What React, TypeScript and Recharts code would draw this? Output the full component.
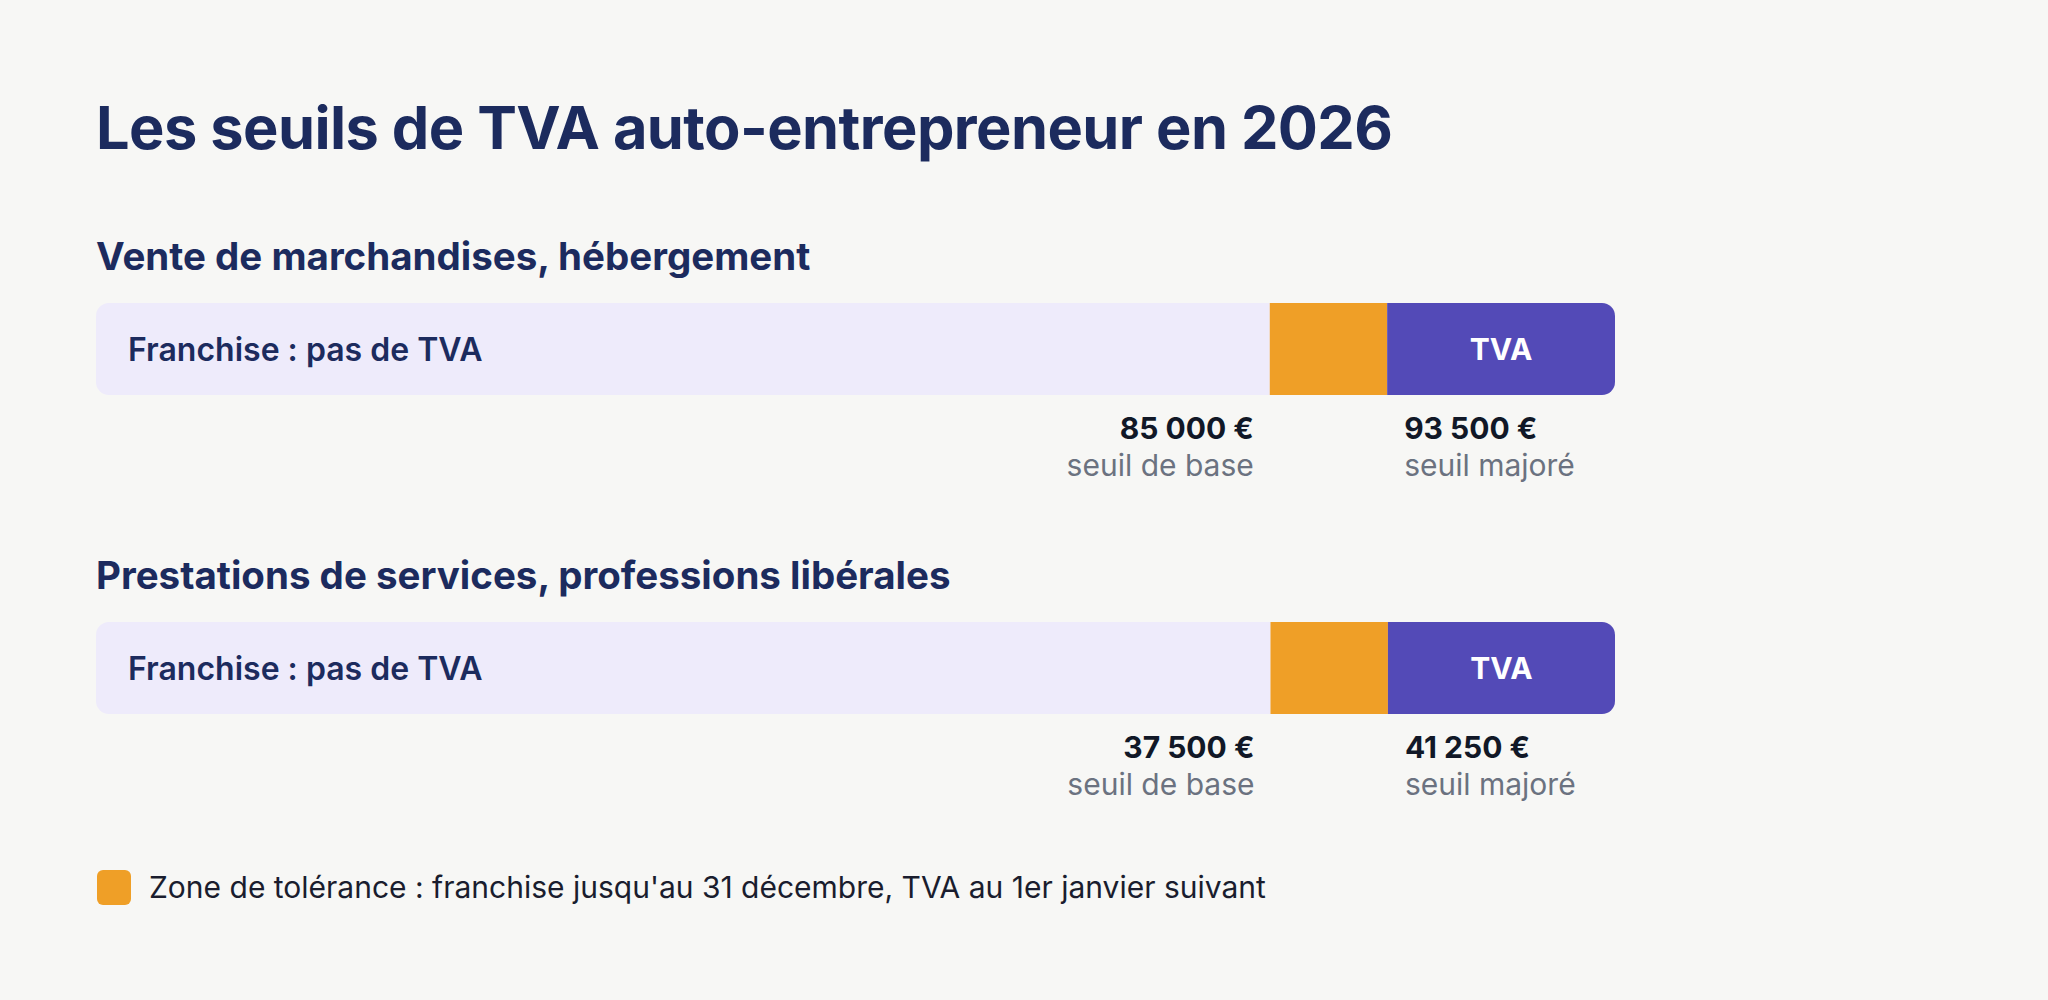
import { BarChart, Bar, XAxis, YAxis, LabelList } from "recharts";

const title = "Les seuils de TVA auto-entrepreneur en 2026";
const sections = [
  "Vente de marchandises, hébergement",
  "Prestations de services, professions libérales",
];
const seuilsBase = [85000, 37500];
const seuilsMajores = [93500, 41250];
const axisMax = [110000, 48500];
const franchiseLabel = "Franchise : pas de TVA";
const tvaLabel = "TVA";
const baseCaption = "seuil de base";
const majoreCaption = "seuil majoré";
const legendText =
  "Zone de tolérance : franchise jusqu'au 31 décembre, TVA au 1er janvier suivant";

const NAVY = "#1C2B5E";
const LAVENDER = "#EEEBFB";
const ORANGE = "#EF9F27";
const PURPLE = "#534AB7";
const INK = "#111827";
const GREY = "#6B7280";
const FONT = "Inter, 'Noto Sans', sans-serif";

const euro = (v: number) => v.toString().replace(/\B(?=(\d{3})+(?!\d))/g, "\u00a0") + "\u00a0€";

function ThresholdLabel({ x, y, width, height, value, side, caption }: any) {
  const edge = Number(x) + Number(width);
  const tx = side === "end" ? edge - 16 : edge + 17;
  const base = Number(y) + Number(height);
  return (
    <g>
      <text x={tx} y={base + 33} textAnchor={side} dominantBaseline="central"
        fontFamily={FONT} fontSize={30} fontWeight={700} fill={INK}>
        {euro(value)}
      </text>
      <text x={tx} y={base + 70} textAnchor={side} dominantBaseline="central"
        fontFamily={FONT} fontSize={30} fontWeight={400} fill={GREY}>
        {caption}
      </text>
    </g>
  );
}

function ThresholdBar({ i }: { i: number }) {
  const data = [
    {
      name: sections[i],
      franchise: seuilsBase[i],
      tolerance: seuilsMajores[i] - seuilsBase[i],
      tva: axisMax[i] - seuilsMajores[i],
      majore: seuilsMajores[i],
    },
  ];
  return (
    <BarChart width={1519} height={190} data={data} layout="vertical"
      margin={{ top: 0, right: 0, bottom: 98, left: 0 }} barCategoryGap={0} barGap={0}>
      <XAxis type="number" domain={[0, axisMax[i]]} hide />
      <YAxis type="category" dataKey="name" hide />
      <Bar dataKey="franchise" stackId="s" fill={LAVENDER} radius={[13, 0, 0, 13]}
        isAnimationActive={false}>
        <LabelList dataKey="franchise" content={(p: any) => (
          <text x={Number(p.x) + 32} y={Number(p.y) + Number(p.height) / 2}
            dominantBaseline="central" fontFamily={FONT} fontSize={32}
            fontWeight={600} fill={NAVY}>
            {franchiseLabel}
          </text>
        )} />
        <LabelList dataKey="franchise" content={(p: any) => (
          <ThresholdLabel {...p} side="end" caption={baseCaption} />
        )} />
      </Bar>
      <Bar dataKey="tolerance" stackId="s" fill={ORANGE} isAnimationActive={false}>
        <LabelList dataKey="majore" content={(p: any) => (
          <ThresholdLabel {...p} side="start" caption={majoreCaption} />
        )} />
      </Bar>
      <Bar dataKey="tva" stackId="s" fill={PURPLE} radius={[0, 13, 13, 0]}
        isAnimationActive={false}>
        <LabelList dataKey="tva" content={(p: any) => (
          <text x={Number(p.x) + Number(p.width) / 2} y={Number(p.y) + Number(p.height) / 2}
            textAnchor="middle" dominantBaseline="central" fontFamily={FONT}
            fontSize={30} fontWeight={700} fill="#FFFFFF">
            {tvaLabel}
          </text>
        )} />
      </Bar>
    </BarChart>
  );
}

export default function App() {
  const sectionTops = [303, 622];
  const headingTops = [235, 554];
  return (
    <div style={{ position: "absolute", left: 0, top: 0, width: 2048, height: 1000,
      background: "#F7F7F5", fontFamily: FONT, overflow: "hidden" }}>
      <div style={{ position: "absolute", left: 96, top: 96, fontSize: 59.5, lineHeight: "62px",
        fontWeight: 700, color: NAVY, letterSpacing: -0.56, whiteSpace: "nowrap" }}>
        {title}
      </div>
      {sections.map((s, i) => (
        <div key={s}>
          <div style={{ position: "absolute", left: 96, top: headingTops[i], fontSize: 38.5,
            lineHeight: "42px", fontWeight: 700, color: NAVY, whiteSpace: "nowrap" }}>
            {s}
          </div>
          <div style={{ position: "absolute", left: 96, top: sectionTops[i] }}>
            <ThresholdBar i={i} />
          </div>
        </div>
      ))}
      <div style={{ position: "absolute", left: 97, top: 869, display: "flex", alignItems: "center" }}>
        <div style={{ width: 34, height: 35, borderRadius: 6, background: ORANGE }} />
        <span style={{ marginLeft: 18, fontSize: 30, color: "#1A1D2E", whiteSpace: "nowrap" }}>
          {legendText}
        </span>
      </div>
    </div>
  );
}
